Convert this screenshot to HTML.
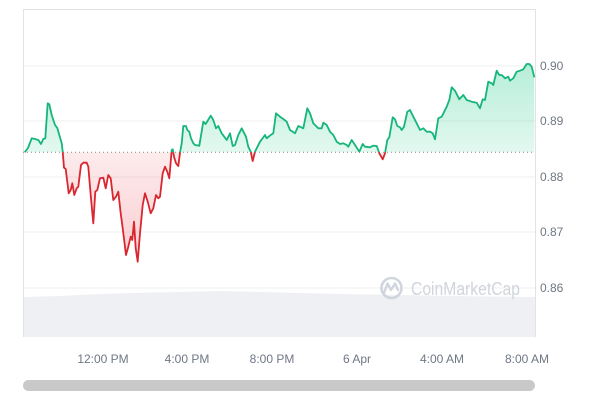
<!DOCTYPE html>
<html><head><meta charset="utf-8"><style>
html,body{margin:0;padding:0;background:#fff;}
svg{display:block;}
text{font-family:"Liberation Sans",Arial,sans-serif;}
</style></head><body>
<svg width="600" height="400" viewBox="0 0 600 400" xmlns="http://www.w3.org/2000/svg">
<defs>
<linearGradient id="gg" gradientUnits="userSpaceOnUse" x1="0" y1="60" x2="0" y2="152.3">
<stop offset="0" stop-color="#16c784" stop-opacity="0.32"/>
<stop offset="1" stop-color="#16c784" stop-opacity="0.12"/>
</linearGradient>
<linearGradient id="rg" gradientUnits="userSpaceOnUse" x1="0" y1="152.3" x2="0" y2="262">
<stop offset="0" stop-color="#ea3943" stop-opacity="0.1"/>
<stop offset="1" stop-color="#ea3943" stop-opacity="0.25"/>
</linearGradient>
<clipPath id="above"><rect x="0" y="0" width="600" height="152.3"/></clipPath>
<clipPath id="below"><rect x="0" y="152.3" width="600" height="250"/></clipPath>
<path id="fillp" d="M24.7,152.3 L28,148 L31.7,138.3 L35,139 L38.3,140 L41,144 L43.3,139 L45.3,138.3 L47.7,103.3 L49.3,104.3 L51.7,115 L55,125 L57.3,128 L59.3,135 L61.7,143.3 L62.7,151.7 L64,167.7 L65.7,169 L68.7,193.3 L70.7,190 L72.3,183.3 L74.3,195 L76.7,188.3 L78.3,186.7 L81,165 L83.3,162.7 L86.7,162.7 L88.3,166.7 L90.7,195 L93.3,223.3 L95.3,191.7 L97.3,190 L100,178.3 L103.3,177.7 L105.7,188.3 L108.3,175 L110.7,178.3 L113.3,200 L116,196.7 L118.3,191.7 L120.7,213.3 L122.7,228.3 L126,255 L128.3,246.7 L130.7,236.7 L132.3,240 L134,221.7 L135.7,248.3 L137.7,261.7 L140,233.3 L142.7,205 L145,193.3 L147.7,201.7 L150.7,213.3 L153.3,208.3 L156,195 L158.3,198.3 L160,196.7 L162.7,173.3 L165,166.7 L167.3,171.7 L169.3,178.3 L171.7,150 L172.7,149.3 L174,156.7 L176,163.3 L178.3,166 L180,152.7 L181.7,143.3 L183.3,126 L186,126 L187.3,130 L189.3,131.7 L191,138.3 L193.3,143.3 L195,145 L199.3,145.7 L203.3,121.7 L205.7,124 L210.7,115.7 L213.3,120 L216,128.3 L218.3,126 L221.7,133.3 L226.7,140 L230,133.3 L232.7,146 L235,145 L238.3,135 L241.7,128.3 L246,136.7 L248.3,146.7 L250.7,151.7 L252.7,161 L255,151.7 L260,141.7 L265,135 L266.7,138.3 L270.7,135 L273.3,133.3 L276,113.3 L280,116.7 L283.3,119 L286.7,121.7 L290,130 L295,133.3 L298.3,126 L300,126.7 L303.3,128.3 L307.3,108.3 L310,113.3 L313.3,123.3 L318.3,128.3 L321.7,128.3 L323.3,122.7 L326.7,125 L330,131.7 L333.3,135 L336.7,141.7 L340,144 L343.3,143.3 L346.7,145 L348.3,146.7 L351.7,140 L355,145 L359.3,151.7 L362.7,144 L365,146.7 L370,147.3 L373.3,145.7 L376.7,146 L379.3,153.3 L382.7,159.3 L385,153.3 L387.3,140 L389.3,137.3 L392.7,117.3 L395,119.3 L397.3,126 L400,127.3 L401.7,130 L404,126.7 L407.3,111.7 L410,110 L413.3,116.7 L416.7,123.3 L420,130 L423.3,128.3 L426.7,131.7 L430,131.7 L432.7,133.3 L435,139.3 L438.3,118.3 L441.7,116.7 L446.7,106.7 L449.3,100 L451.7,87.3 L455,90.7 L459.3,99.3 L463.3,95 L466.7,100 L471.7,101.7 L476.7,102.7 L480,108.3 L482.7,99.3 L485,100 L488.3,81.7 L491.7,83.3 L493.3,85 L496.7,70.7 L499.3,75 L501.7,75 L505,78.3 L508.3,76.7 L510,80.7 L513.3,78.3 L516.7,71.7 L520,70.7 L523.3,69.3 L526.7,64 L529.3,64 L531.7,66.7 L534.3,77.3 L534.3,152.3 Z"/>
<path id="linep" d="M24.7,152.3 L28,148 L31.7,138.3 L35,139 L38.3,140 L41,144 L43.3,139 L45.3,138.3 L47.7,103.3 L49.3,104.3 L51.7,115 L55,125 L57.3,128 L59.3,135 L61.7,143.3 L62.7,151.7 L64,167.7 L65.7,169 L68.7,193.3 L70.7,190 L72.3,183.3 L74.3,195 L76.7,188.3 L78.3,186.7 L81,165 L83.3,162.7 L86.7,162.7 L88.3,166.7 L90.7,195 L93.3,223.3 L95.3,191.7 L97.3,190 L100,178.3 L103.3,177.7 L105.7,188.3 L108.3,175 L110.7,178.3 L113.3,200 L116,196.7 L118.3,191.7 L120.7,213.3 L122.7,228.3 L126,255 L128.3,246.7 L130.7,236.7 L132.3,240 L134,221.7 L135.7,248.3 L137.7,261.7 L140,233.3 L142.7,205 L145,193.3 L147.7,201.7 L150.7,213.3 L153.3,208.3 L156,195 L158.3,198.3 L160,196.7 L162.7,173.3 L165,166.7 L167.3,171.7 L169.3,178.3 L171.7,150 L172.7,149.3 L174,156.7 L176,163.3 L178.3,166 L180,152.7 L181.7,143.3 L183.3,126 L186,126 L187.3,130 L189.3,131.7 L191,138.3 L193.3,143.3 L195,145 L199.3,145.7 L203.3,121.7 L205.7,124 L210.7,115.7 L213.3,120 L216,128.3 L218.3,126 L221.7,133.3 L226.7,140 L230,133.3 L232.7,146 L235,145 L238.3,135 L241.7,128.3 L246,136.7 L248.3,146.7 L250.7,151.7 L252.7,161 L255,151.7 L260,141.7 L265,135 L266.7,138.3 L270.7,135 L273.3,133.3 L276,113.3 L280,116.7 L283.3,119 L286.7,121.7 L290,130 L295,133.3 L298.3,126 L300,126.7 L303.3,128.3 L307.3,108.3 L310,113.3 L313.3,123.3 L318.3,128.3 L321.7,128.3 L323.3,122.7 L326.7,125 L330,131.7 L333.3,135 L336.7,141.7 L340,144 L343.3,143.3 L346.7,145 L348.3,146.7 L351.7,140 L355,145 L359.3,151.7 L362.7,144 L365,146.7 L370,147.3 L373.3,145.7 L376.7,146 L379.3,153.3 L382.7,159.3 L385,153.3 L387.3,140 L389.3,137.3 L392.7,117.3 L395,119.3 L397.3,126 L400,127.3 L401.7,130 L404,126.7 L407.3,111.7 L410,110 L413.3,116.7 L416.7,123.3 L420,130 L423.3,128.3 L426.7,131.7 L430,131.7 L432.7,133.3 L435,139.3 L438.3,118.3 L441.7,116.7 L446.7,106.7 L449.3,100 L451.7,87.3 L455,90.7 L459.3,99.3 L463.3,95 L466.7,100 L471.7,101.7 L476.7,102.7 L480,108.3 L482.7,99.3 L485,100 L488.3,81.7 L491.7,83.3 L493.3,85 L496.7,70.7 L499.3,75 L501.7,75 L505,78.3 L508.3,76.7 L510,80.7 L513.3,78.3 L516.7,71.7 L520,70.7 L523.3,69.3 L526.7,64 L529.3,64 L531.7,66.7 L534.3,77.3"/>
</defs>
<!-- volume area -->
<path d="M23,297 L60,296 L100,294 L130,293 L180,292 L220,291 L260,292 L300,293 L340,294 L400,295 L450,296 L535,297 L535,337 L23,337 Z" fill="#eef0f3"/>
<!-- grid -->
<g stroke="#efefef" stroke-width="1">
<line x1="23" y1="66" x2="535" y2="66"/>
<line x1="23" y1="121" x2="535" y2="121"/>
<line x1="23" y1="177" x2="535" y2="177"/>
<line x1="23" y1="232" x2="535" y2="232"/>
<line x1="23" y1="288" x2="535" y2="288"/>
</g>
<g stroke="#e3e3e3" stroke-width="1" fill="none">
<line x1="23" y1="9.5" x2="535.5" y2="9.5"/>
<line x1="23.5" y1="9.5" x2="23.5" y2="337"/>
<line x1="535.5" y1="9.5" x2="535.5" y2="337"/>
</g>
<!-- watermark -->
<g opacity="0.9">
<circle cx="391.5" cy="288" r="10" fill="none" stroke="#cdd1da" stroke-width="2.6"/>
<path d="M384,293 L387.5,283.5 L391,290 L395,283.5 L398,290" fill="none" stroke="#cdd1da" stroke-width="2.4" stroke-linejoin="round" stroke-linecap="round"/>
<text x="411" y="295" font-size="18" fill="#ccd0d9" textLength="109" lengthAdjust="spacingAndGlyphs">CoinMarketCap</text>
</g>
<!-- fills -->
<use href="#fillp" clip-path="url(#above)" fill="url(#gg)"/>
<use href="#fillp" clip-path="url(#below)" fill="url(#rg)"/>
<!-- baseline -->
<line x1="23" y1="152.3" x2="535" y2="152.3" stroke="#8a8a8a" stroke-width="1" stroke-dasharray="1,3"/>
<!-- line -->
<use href="#linep" clip-path="url(#above)" fill="none" stroke="#16b57a" stroke-width="1.8" stroke-linejoin="round"/>
<use href="#linep" clip-path="url(#below)" fill="none" stroke="#d9262f" stroke-width="1.8" stroke-linejoin="round"/>
<!-- y labels -->
<g font-size="12" fill="#6f7785">
<text x="540" y="70">0.90</text>
<text x="540" y="125">0.89</text>
<text x="540" y="181">0.88</text>
<text x="540" y="236">0.87</text>
<text x="540" y="292">0.86</text>
</g>
<!-- x labels -->
<g font-size="12" fill="#6f7785" text-anchor="middle">
<text x="103" y="363">12:00 PM</text>
<text x="187" y="363">4:00 PM</text>
<text x="272" y="363">8:00 PM</text>
<text x="357" y="363">6 Apr</text>
<text x="442" y="363">4:00 AM</text>
<text x="527" y="363">8:00 AM</text>
</g>
<!-- scrollbar -->
<rect x="23" y="380" width="512" height="11" rx="5.5" fill="#c9c9c9"/>
</svg>
</body></html>
